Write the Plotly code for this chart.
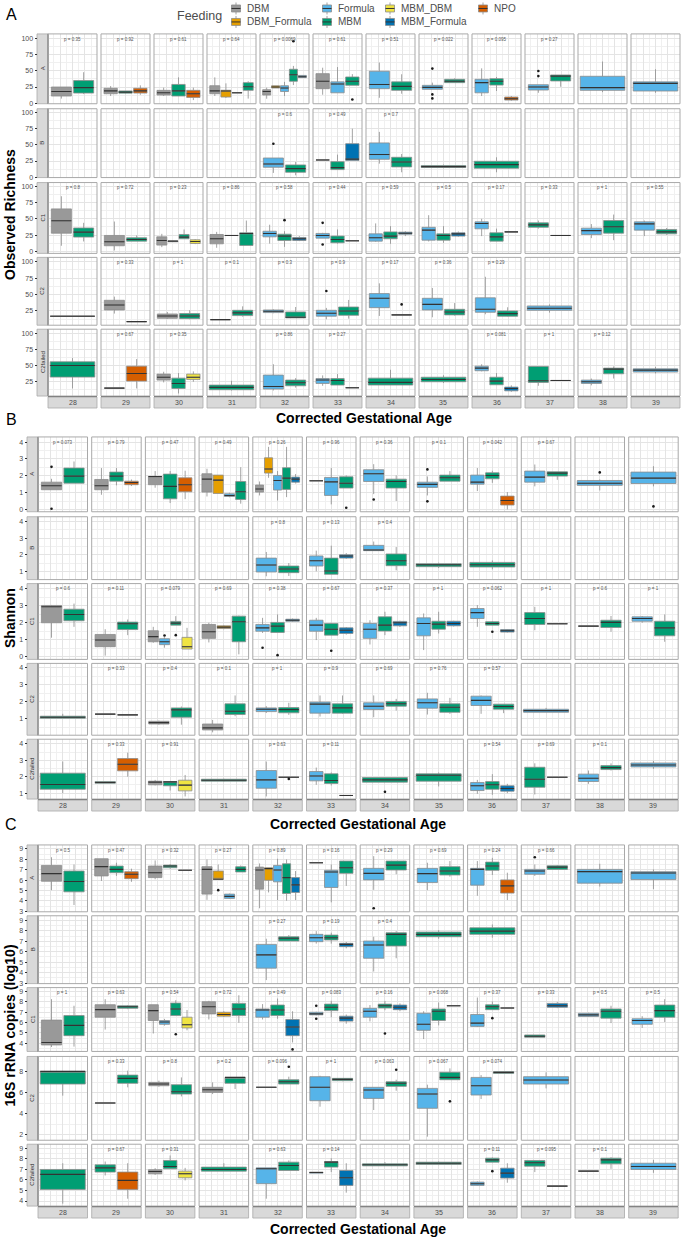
import plotly.graph_objects as go

W, H = 683, 1240
FONT = "Liberation Sans, Arial, sans-serif"

GROUPS = ["DBM", "DBM_Formula", "Formula", "MBM", "MBM_DBM", "MBM_Formula", "NPO"]
CODES = ["D", "DF", "F", "M", "MD", "MF", "N"]
COLORS = ["#999999", "#E69F00", "#56B4E9", "#009E73", "#F0E442", "#0072B2", "#D55E00"]
AGES = list(range(28, 40))
ROW_NAMES = ["A", "B", "C1", "C2", "C2failed"]

# (age, group, lower whisker, q1, median, q3, upper whisker, outliers)
RICH_A = [
    (28, 'D', 7, 11, 18, 25, 25, []), (28, 'M', 14, 15.6, 24, 35, 48, []),
    (29, 'D', 11, 14.6, 19, 23, 26.5, []), (29, 'M', 15, 15.5, 17, 19, 19, []), (29, 'N', 13, 15.6, 19, 23, 27.6, []),
    (30, 'D', 11, 12.5, 16, 19.8, 24, []), (30, 'M', 11, 11, 19, 29, 40, []), (30, 'N', 4.7, 8.9, 14.6, 19.8, 24, []),
    (31, 'D', 11, 14.6, 19, 27, 40, []), (31, 'DF', 8, 9.4, 18.7, 20, 30.7, []), (31, 'F', 16, 16, 16, 16, 16, []),
    (31, 'M', 7, 19.8, 25.5, 31.8, 34, []),
    (32, 'D', 6.8, 12.5, 18, 20.8, 24, []), (32, 'DF', 23.4, 23.4, 25, 27, 27, []), (32, 'F', 11, 18, 23.4, 27, 33, []),
    (32, 'M', 28, 33.9, 44, 52.6, 57.8, [96]), (32, 'MF', 39.6, 39.6, 41, 43, 43, []),
    (33, 'D', 13, 22.4, 34, 45.8, 55, []), (33, 'F', 16, 16, 29.7, 33, 56, []), (33, 'M', 27.6, 27.6, 34, 40.6, 45, [5.7]),
    (34, 'F', 8.3, 22.4, 29, 49.5, 63, []), (34, 'M', 14.6, 19.8, 26, 33, 44.8, []),
    (35, 'F', 21.4, 21.4, 24.5, 27.6, 31.8, [53.6, 13.5, 7.3]), (35, 'M', 31.8, 31.8, 34, 37, 38.5, []),
    (36, 'F', 11, 16, 31.8, 37, 54, []), (36, 'M', 18.8, 28, 34, 38, 40.6, []), (36, 'N', 3.6, 4.7, 6.8, 9.4, 11, []),
    (37, 'F', 16, 20.3, 25, 28.6, 28.6, [50, 42]), (37, 'M', 25.5, 34.4, 42, 43.7, 43.7, []),
    (38, 'F', 17, 19.8, 24, 41.7, 64.6, []),
    (39, 'F', 16, 18.8, 30.7, 33, 52.6, []),
]
RICH_B = [
    (32, 'F', 6.7, 15.4, 20.5, 29.7, 29.7, [51.8]), (32, 'M', 3, 7.7, 13.3, 19, 23.6, []),
    (33, 'F', 26.7, 26.7, 26.7, 26.7, 26.7, []), (33, 'M', 11.8, 11.8, 14.9, 24, 34.9, []),
    (33, 'MF', 26, 26, 28, 51.8, 74.9, []),
    (34, 'F', 21, 27.7, 35, 53, 70, []), (34, 'M', 7.7, 15.9, 23.6, 30.8, 35.9, []),
    (35, 'M', 14, 15, 16.4, 18, 19.5, []),
    (36, 'M', 7.7, 13.8, 19.5, 24.6, 30.8, []),
]
RICH_C1 = [
    (28, 'D', 8.7, 28, 47, 65.3, 84.7, []), (28, 'M', 15.3, 22, 29.6, 36, 43.9, []),
    (29, 'D', 1.5, 8.7, 14.8, 24.5, 45.9, []), (29, 'M', 15.8, 15.8, 18.4, 21, 24.5, []),
    (30, 'D', 6.6, 9.7, 16.8, 22.4, 27, []), (30, 'F', 14.8, 14.8, 15.8, 15.8, 16.3, []),
    (30, 'M', 19.4, 19.4, 22, 26, 33.7, []), (30, 'MD', 11.2, 12.2, 15.3, 17.9, 18.9, []),
    (31, 'D', 5.6, 11.7, 19.4, 26, 30, []), (31, 'DF', 24.5, 24.5, 24.5, 24.5, 24.5, []),
    (31, 'M', 9.2, 9.2, 27.6, 28.6, 47.4, []),
    (32, 'F', 12, 22.4, 27.6, 31, 41, []), (32, 'M', 7, 16.8, 23.5, 26.5, 31, [48]),
    (32, 'MF', 15.8, 16.8, 19.4, 21.4, 23.5, []),
    (33, 'F', 20.4, 20.4, 24.5, 27.6, 28.6, [43.9, 10.7]), (33, 'M', 12, 13.3, 18.4, 23.5, 33.7, []),
    (33, 'MF', 16.3, 16.3, 16.3, 16.3, 16.3, []),
    (34, 'F', 14.8, 15.8, 21, 27, 43, []), (34, 'M', 11.7, 19.4, 23.5, 30, 38.8, []),
    (34, 'MF', 23.5, 26.5, 28, 29.6, 31, []),
    (35, 'F', 15.3, 17.3, 32.7, 37, 55.6, []), (35, 'M', 13.3, 17.3, 24.5, 27, 38.8, []),
    (35, 'MF', 22.4, 23.5, 27, 28.6, 30.6, []),
    (36, 'F', 23.5, 34.7, 42.9, 45.4, 50, []), (36, 'M', 15.8, 15.8, 22.4, 28.6, 35, []),
    (36, 'MF', 30, 30, 30, 30, 30, []),
    (37, 'M', 35, 37, 40.8, 43.9, 47.4, []), (37, 'MF', 24.5, 24.5, 24.5, 24.5, 24.5, []),
    (38, 'F', 20.4, 26, 32, 35.7, 42, []), (38, 'M', 17.3, 28, 37.8, 47.4, 56.6, []),
    (39, 'F', 23.5, 32.7, 42.3, 45.4, 47.4, []), (39, 'M', 25.5, 27, 30, 33.7, 36, []),
]
RICH_C2 = [
    (28, 'M', 17, 17, 17, 17, 17, []),
    (29, 'D', 21, 26.5, 34, 41.2, 46.8, []), (29, 'M', 8.8, 8.8, 8.8, 8.8, 8.8, []),
    (30, 'D', 12.8, 13.8, 17.4, 20.4, 23.5, []), (30, 'M', 12.3, 13.3, 17.4, 21, 26, []),
    (31, 'D', 11.8, 11.8, 11.8, 11.8, 11.8, []), (31, 'M', 16.4, 17.9, 22, 26, 32, []),
    (32, 'F', 21.5, 22.5, 24.5, 26.5, 27.5, []), (32, 'M', 14.4, 14.4, 15.4, 23.5, 31, []),
    (33, 'F', 12.3, 17, 21.5, 26, 29.6, [55.4]), (33, 'M', 13.3, 18.4, 25, 31, 41.7, []),
    (34, 'F', 17.4, 30, 44.3, 51.4, 67, []), (34, 'M', 19, 19, 19, 19, 19, [35]),
    (35, 'F', 15.4, 26.5, 35, 44.3, 60, []), (35, 'M', 17.9, 19, 23.5, 27.5, 37, []),
    (36, 'F', 20, 23, 27.5, 45, 77, []), (36, 'M', 16.4, 16.9, 21, 25, 30.6, []),
    (37, 'F', 22.5, 26, 29, 32.6, 35, []),
]
RICH_C2F = [
    (28, 'M', 14.7, 32.2, 50, 55.8, 61.5, []),
    (29, 'M', 15.2, 15.2, 15.2, 15.2, 15.2, []), (29, 'N', 14.7, 26, 37.8, 49, 60, []),
    (30, 'D', 24, 27.6, 32, 36.8, 40.4, []), (30, 'M', 7, 14.7, 22.4, 30.6, 38.4, []),
    (30, 'MD', 25, 28.6, 32, 36.8, 41, []),
    (31, 'M', 11.6, 12.7, 16.3, 19.9, 26.5, []),
    (32, 'F', 11.6, 13.7, 17.8, 35.3, 52, []), (32, 'M', 16, 18.8, 23.5, 27.6, 30.6, []),
    (33, 'F', 18.8, 22.4, 27.6, 30, 34.8, []), (33, 'M', 19.9, 19.9, 27, 30, 36.8, []),
    (33, 'MF', 15.8, 15.8, 15.8, 15.8, 15.8, []),
    (34, 'M', 19.9, 19.9, 24, 30.6, 43.5, []),
    (35, 'M', 23, 25, 28.6, 32, 35, []),
    (36, 'F', 41, 42, 46, 49, 52, []), (36, 'M', 20.4, 20.4, 26, 32, 38.4, []),
    (36, 'MF', 9.5, 11, 14.7, 16.8, 19.5, []),
    (37, 'M', 18.8, 24, 26.5, 48.6, 48.6, []), (37, 'MD', 27, 27, 27, 27, 27, []),
    (38, 'F', 19.5, 22.4, 25, 27.6, 30, []), (38, 'M', 30, 37.3, 44.5, 46, 48.6, []),
    (39, 'F', 37.8, 40, 43, 45, 48, []),
]

SHAN_A = [
    (28, 'D', 1.17, 1.17, 1.41, 1.62, 1.82, [2.53, 0.04]), (28, 'M', 1.56, 1.56, 1.98, 2.46, 2.85, []),
    (29, 'D', 0.87, 1.17, 1.41, 1.78, 2.46, []), (29, 'M', 1.43, 1.68, 1.98, 2.22, 2.46, []),
    (29, 'N', 1.39, 1.47, 1.6, 1.68, 1.78, []),
    (30, 'D', 1.29, 1.47, 1.96, 1.96, 2.28, []), (30, 'M', 0.38, 0.63, 1.37, 2.1, 2.28, []),
    (30, 'N', 0.61, 1.05, 1.47, 1.88, 2.3, []),
    (31, 'D', 0.77, 1.03, 1.8, 2.12, 2.42, []), (31, 'DF', 0.95, 0.95, 1.74, 2.04, 2.04, []),
    (31, 'F', 0.72, 0.77, 0.83, 0.93, 0.99, []), (31, 'M', 0.34, 0.59, 1.05, 1.66, 2.51, []),
    (32, 'D', 0.83, 1.03, 1.21, 1.45, 1.66, []), (32, 'DF', 1.88, 2.16, 2.4, 3.07, 3.72, []),
    (32, 'F', 0.53, 1.15, 1.72, 2.02, 2.28, []), (32, 'M', 0.73, 1.19, 1.86, 2.48, 3.72, []),
    (32, 'MF', 1.54, 1.62, 1.8, 1.92, 2.1, []),
    (33, 'D', 1.7, 1.7, 1.7, 1.7, 1.7, []), (33, 'F', 0.3, 0.83, 1.64, 1.9, 2.46, []),
    (33, 'M', 1.27, 1.27, 1.56, 1.94, 2.02, [0.1]),
    (34, 'F', 0.91, 1.66, 2.12, 2.36, 2.69, [0.59]), (34, 'M', 0.5, 1.27, 1.66, 1.8, 2.02, []),
    (35, 'F', 0.83, 1.31, 1.49, 1.62, 1.96, [2.38, 0.48]), (35, 'M', 1.68, 1.68, 1.88, 2.04, 2.28, []),
    (36, 'F', 1.09, 1.5, 1.62, 2.04, 2.46, []), (36, 'M', 1.58, 1.82, 2.02, 2.18, 2.3, []),
    (36, 'N', 0.0, 0.26, 0.53, 0.79, 1.03, []),
    (37, 'F', 1.37, 1.62, 1.92, 2.28, 2.67, []), (37, 'M', 1.76, 1.98, 2.16, 2.24, 2.24, []),
    (38, 'F', 1.13, 1.43, 1.56, 1.72, 1.78, [2.2]),
    (39, 'F', 1.37, 1.54, 1.86, 2.22, 2.57, [0.18]),
]
SHAN_B = [
    (32, 'F', 0.7, 0.96, 1.38, 1.8, 2.17, []), (32, 'M', 0.72, 0.92, 1.14, 1.32, 1.5, []),
    (33, 'F', 1.0, 1.32, 1.64, 1.93, 2.25, []), (33, 'M', 0.82, 0.82, 1.02, 1.8, 2.55, []),
    (33, 'MF', 1.75, 1.8, 1.93, 2.0, 2.1, []),
    (34, 'F', 2.25, 2.25, 2.29, 2.57, 2.8, []), (34, 'M', 1.06, 1.34, 1.64, 2.05, 2.47, []),
    (35, 'M', 1.2, 1.28, 1.4, 1.46, 1.52, []),
    (36, 'M', 1.12, 1.26, 1.4, 1.54, 1.66, []),
]
SHAN_C1 = [
    (28, 'D', 1.12, 2.0, 2.94, 3.02, 3.05, []), (28, 'M', 1.76, 2.12, 2.49, 2.8, 3.13, []),
    (29, 'D', 0.06, 0.59, 0.98, 1.31, 1.62, []), (29, 'M', 1.27, 1.6, 1.94, 2.04, 2.19, []),
    (30, 'D', 0.82, 0.88, 1.18, 1.53, 1.76, []), (30, 'F', 0.53, 0.71, 0.88, 1.06, 1.15, [1.25]),
    (30, 'M', 1.86, 1.86, 1.98, 2.08, 2.39, [1.27]), (30, 'MD', 0.45, 0.45, 0.59, 1.14, 1.7, []),
    (31, 'D', 0.84, 1.08, 1.47, 1.9, 2.0, []), (31, 'DF', 1.62, 1.66, 1.74, 1.82, 1.86, []),
    (31, 'M', 0.14, 0.88, 2.06, 2.39, 2.42, []),
    (32, 'F', 1.4, 1.5, 1.7, 1.9, 2.29, [0.53]), (32, 'M', 1.43, 1.43, 1.8, 2.02, 2.49, [0.09]),
    (32, 'MF', 2.05, 2.09, 2.15, 2.21, 2.25, []),
    (33, 'F', 0.98, 1.5, 1.86, 2.15, 2.29, []), (33, 'M', 1.27, 1.27, 1.62, 1.96, 2.0, [0.35]),
    (33, 'MF', 1.3, 1.37, 1.56, 1.7, 1.75, []),
    (34, 'F', 0.72, 1.08, 1.62, 1.96, 2.15, []), (34, 'M', 1.27, 1.51, 1.86, 2.35, 2.65, []),
    (34, 'MF', 1.75, 1.82, 2.0, 2.08, 2.12, []),
    (35, 'F', 0.39, 1.23, 1.96, 2.29, 2.55, []), (35, 'M', 1.37, 1.62, 1.92, 2.09, 2.65, []),
    (35, 'MF', 1.78, 1.82, 1.96, 2.09, 2.12, []),
    (36, 'F', 1.76, 2.25, 2.6, 2.84, 3.04, []), (36, 'M', 1.86, 1.86, 1.96, 2.06, 2.1, [1.47]),
    (36, 'MF', 1.42, 1.45, 1.53, 1.6, 1.62, []),
    (37, 'M', 1.56, 1.9, 2.25, 2.6, 2.94, []), (37, 'MF', 1.94, 1.94, 1.94, 1.94, 1.94, []),
    (38, 'F', 1.8, 1.8, 1.8, 1.8, 1.8, []), (38, 'M', 1.47, 1.72, 2.02, 2.15, 2.4, []),
    (39, 'F', 2.0, 2.09, 2.25, 2.35, 2.4, []), (39, 'M', 0.88, 1.23, 1.7, 2.09, 2.49, []),
]
SHAN_C2 = [
    (28, 'M', 1.04, 1.04, 1.1, 1.16, 1.3, []),
    (29, 'D', 1.28, 1.28, 1.28, 1.28, 1.28, []), (29, 'M', 1.24, 1.24, 1.24, 1.24, 1.24, []),
    (30, 'D', 0.66, 0.7, 0.78, 0.86, 0.9, []), (30, 'M', 0.66, 1.1, 1.53, 1.65, 1.73, []),
    (31, 'D', 0.21, 0.35, 0.47, 0.7, 0.94, []), (31, 'M', 1.16, 1.26, 1.45, 1.89, 2.38, []),
    (32, 'F', 1.35, 1.43, 1.57, 1.65, 1.75, []), (32, 'M', 1.24, 1.36, 1.55, 1.67, 1.95, []),
    (33, 'F', 1.14, 1.34, 1.87, 1.99, 2.38, []), (33, 'M', 1.3, 1.34, 1.65, 1.89, 2.38, []),
    (34, 'F', 1.1, 1.55, 1.75, 1.95, 2.38, []), (34, 'M', 1.49, 1.75, 1.89, 2.03, 2.18, []),
    (35, 'F', 1.26, 1.63, 1.95, 2.18, 2.54, []), (35, 'M', 1.3, 1.39, 1.69, 1.89, 2.24, []),
    (36, 'F', 1.3, 1.79, 2.09, 2.34, 2.38, []), (36, 'M', 1.34, 1.57, 1.73, 1.87, 1.87, []),
    (37, 'F', 1.39, 1.39, 1.49, 1.57, 1.65, []),
]
SHAN_C2F = [
    (28, 'M', 1.0, 1.24, 1.53, 2.22, 2.93, []),
    (29, 'M', 1.6, 1.6, 1.65, 1.71, 1.71, []), (29, 'N', 2.01, 2.36, 2.76, 3.11, 3.47, []),
    (30, 'D', 1.47, 1.51, 1.67, 1.73, 1.81, []), (30, 'M', 1.16, 1.45, 1.69, 1.71, 1.71, []),
    (30, 'MD', 0.8, 1.14, 1.49, 1.79, 2.11, []),
    (31, 'M', 1.7, 1.73, 1.79, 1.85, 1.88, []),
    (32, 'F', 0.8, 1.3, 1.81, 2.38, 2.93, []), (32, 'M', 1.97, 1.97, 1.97, 1.97, 1.97, [1.87]),
    (33, 'F', 1.51, 1.75, 2.05, 2.32, 2.56, []), (33, 'M', 1.47, 1.59, 1.77, 2.18, 2.26, []),
    (33, 'MF', 0.86, 0.86, 0.86, 0.86, 0.86, []),
    (34, 'M', 1.67, 1.67, 1.81, 1.95, 1.95, [1.08]),
    (35, 'M', 1.41, 1.73, 2.09, 2.18, 2.26, []),
    (36, 'F', 0.96, 1.16, 1.45, 1.65, 1.81, []), (36, 'M', 0.9, 1.24, 1.51, 1.71, 2.16, []),
    (36, 'MF', 1.0, 1.12, 1.28, 1.45, 1.57, []),
    (37, 'M', 0.92, 1.36, 1.85, 2.58, 2.82, []), (37, 'MD', 1.97, 1.97, 1.97, 1.97, 1.97, []),
    (38, 'F', 1.57, 1.71, 1.91, 2.16, 2.38, []), (38, 'M', 2.38, 2.44, 2.56, 2.68, 2.82, []),
    (39, 'F', 2.48, 2.6, 2.72, 2.84, 2.97, []),
]

COP_A = [
    (28, 'D', 5.03, 5.89, 6.62, 7.41, 8.2, []), (28, 'M', 3.6, 4.87, 5.86, 6.87, 7.5, []),
    (29, 'D', 5.92, 6.4, 7.29, 8.05, 8.05, []), (29, 'M', 6.4, 6.71, 7.03, 7.35, 7.67, []),
    (29, 'N', 5.83, 6.14, 6.56, 6.81, 7.1, []),
    (30, 'D', 6.08, 6.24, 6.71, 7.35, 7.89, []), (30, 'M', 7.1, 7.19, 7.35, 7.44, 7.54, []),
    (30, 'N', 6.94, 6.94, 6.94, 6.94, 6.94, []),
    (31, 'D', 4.1, 4.65, 7.03, 7.29, 7.98, []), (31, 'DF', 6.08, 6.08, 6.08, 6.87, 7.5, [5.03]),
    (31, 'F', 4.2, 4.24, 4.43, 4.65, 4.7, []), (31, 'M', 6.78, 6.78, 7.03, 7.29, 7.41, []),
    (32, 'D', 3.29, 5.13, 6.97, 7.25, 7.6, []), (32, 'DF', 4.81, 5.98, 7.1, 7.19, 7.19, []),
    (32, 'F', 4.08, 5.83, 6.97, 7.41, 8.05, []), (32, 'M', 4.02, 4.71, 6.24, 7.57, 7.98, []),
    (32, 'MF', 4.08, 4.81, 5.54, 6.24, 6.87, []),
    (33, 'D', 7.67, 7.67, 7.67, 7.67, 7.67, []), (33, 'F', 3.86, 5.29, 6.78, 6.94, 7.5, []),
    (33, 'M', 5.44, 6.65, 7.19, 7.83, 7.83, []),
    (34, 'F', 5.06, 6.02, 6.65, 7.13, 8.3, [3.29]), (34, 'M', 6.56, 6.97, 7.44, 7.83, 7.83, []),
    (35, 'F', 5.03, 5.76, 6.62, 7.13, 7.67, []), (35, 'M', 6.33, 6.49, 6.87, 7.29, 7.83, []),
    (36, 'F', 4.49, 5.51, 7.03, 7.13, 7.83, []), (36, 'M', 6.49, 6.94, 7.35, 7.73, 8.14, []),
    (36, 'N', 4.08, 4.75, 5.44, 6.02, 6.71, []),
    (37, 'F', 6.4, 6.56, 6.87, 7.03, 7.5, [8.2]), (37, 'M', 7.03, 7.03, 7.25, 7.38, 7.44, []),
    (38, 'F', 5.38, 5.7, 6.81, 7.03, 7.57, []),
    (39, 'F', 5.13, 6.05, 6.68, 6.81, 7.03, []),
]
COP_B = [
    (32, 'F', 3.29, 4.43, 5.7, 6.71, 7.25, []), (32, 'M', 7.03, 7.03, 7.29, 7.44, 7.6, []),
    (33, 'F', 6.78, 6.97, 7.35, 7.67, 7.98, []), (33, 'M', 6.78, 7.13, 7.35, 7.6, 7.83, []),
    (33, 'MF', 6.33, 6.49, 6.71, 6.81, 6.94, []),
    (34, 'F', 4.11, 5.38, 6.65, 7.03, 7.44, []), (34, 'M', 5.38, 6.56, 7.67, 7.83, 7.98, []),
    (35, 'M', 7.25, 7.44, 7.67, 7.89, 8.08, []),
    (36, 'M', 7.35, 7.67, 7.98, 8.3, 8.62, []),
]
COP_C1 = [
    (28, 'D', 3.63, 3.83, 4.07, 6.24, 8.27, []), (28, 'M', 3.67, 4.73, 5.73, 6.68, 7.63, []),
    (29, 'D', 5.32, 6.52, 7.25, 7.73, 8.27, []), (29, 'M', 7.3, 7.38, 7.54, 7.63, 7.7, []),
    (30, 'D', 4.94, 6.2, 7.16, 7.73, 7.73, []), (30, 'F', 5.7, 5.83, 6.05, 6.2, 6.36, []),
    (30, 'M', 6.68, 6.68, 7.32, 7.89, 8.17, [4.87]), (30, 'MD', 5.25, 5.48, 5.79, 6.52, 7.22, []),
    (31, 'D', 6.3, 6.84, 7.54, 8.02, 8.11, []), (31, 'DF', 6.55, 6.62, 6.78, 7.0, 7.1, []),
    (31, 'M', 5.98, 6.68, 7.32, 7.86, 8.65, []),
    (32, 'F', 6.3, 6.52, 7.22, 7.32, 7.79, []), (32, 'M', 6.37, 6.68, 7.22, 7.7, 8.33, []),
    (32, 'MF', 4.07, 4.73, 5.57, 6.3, 7.1, [3.4]),
    (33, 'F', 6.7, 6.75, 6.84, 7.0, 7.05, [7.63, 6.37]), (33, 'M', 6.52, 7.16, 7.48, 7.79, 8.11, []),
    (33, 'MF', 5.89, 6.14, 6.43, 6.62, 6.78, []),
    (34, 'F', 6.11, 6.52, 7.1, 7.38, 7.7, []), (34, 'M', 7.2, 7.41, 7.63, 7.79, 8.1, [4.94]),
    (34, 'MF', 7.1, 7.25, 7.48, 7.7, 7.86, []),
    (35, 'F', 4.4, 5.25, 5.83, 6.9, 7.1, []), (35, 'M', 5.73, 6.2, 7.1, 7.32, 7.95, []),
    (35, 'MF', 7.63, 7.63, 7.63, 7.63, 7.63, []),
    (36, 'F', 5.57, 5.63, 5.95, 6.78, 8.43, []), (36, 'M', 7.25, 7.25, 7.54, 7.73, 8.05, [6.43]),
    (36, 'MF', 7.41, 7.41, 7.41, 7.41, 7.41, []),
    (37, 'M', 4.57, 4.57, 4.67, 4.8, 4.8, []), (37, 'MF', 7.4, 7.48, 7.63, 7.86, 8.0, []),
    (38, 'F', 6.55, 6.59, 6.75, 6.9, 6.95, []), (38, 'M', 5.95, 6.43, 7.1, 7.32, 7.63, []),
    (39, 'F', 5.48, 5.83, 6.2, 6.37, 6.62, []), (39, 'M', 6.05, 6.52, 7.16, 7.7, 8.27, []),
]
COP_C2 = [
    (28, 'M', 5.73, 6.83, 8.03, 8.03, 8.03, []),
    (29, 'D', 5.03, 5.03, 5.03, 5.03, 5.03, []), (29, 'M', 6.52, 6.9, 7.37, 7.68, 8.1, []),
    (30, 'D', 6.58, 6.67, 6.83, 6.99, 7.15, []), (30, 'M', 5.66, 5.88, 6.1, 6.77, 7.46, []),
    (31, 'D', 5.88, 6.04, 6.29, 6.52, 6.99, []), (31, 'M', 6.36, 6.9, 7.46, 7.46, 7.46, []),
    (32, 'F', 6.52, 6.52, 6.52, 6.52, 6.52, []), (32, 'M', 6.83, 6.83, 7.05, 7.24, 7.53, [8.47]),
    (33, 'F', 4.68, 5.25, 6.52, 7.53, 7.62, []), (33, 'M', 7.1, 7.15, 7.27, 7.37, 7.37, []),
    (34, 'F', 4.37, 5.47, 6.26, 6.52, 6.52, []), (34, 'M', 6.2, 6.61, 6.9, 7.05, 7.24, [8.19]),
    (35, 'F', 1.84, 4.53, 5.88, 6.42, 6.77, []), (35, 'M', 7.24, 7.24, 7.46, 7.94, 8.32, [5.19]),
    (36, 'F', 5.41, 5.79, 6.67, 7.46, 7.68, []), (36, 'M', 7.84, 7.84, 7.94, 8.0, 8.0, []),
    (37, 'F', 6.42, 6.83, 7.21, 7.53, 7.94, []),
]
COP_C2F = [
    (28, 'M', 3.75, 5.1, 6.52, 6.99, 7.58, []),
    (29, 'M', 6.42, 6.74, 7.14, 7.43, 7.74, []), (29, 'N', 4.22, 5.1, 5.95, 6.74, 7.58, []),
    (30, 'D', 6.48, 6.58, 6.8, 6.96, 7.11, []), (30, 'M', 7.05, 7.05, 7.27, 7.84, 8.31, []),
    (30, 'MD', 5.95, 6.2, 6.58, 6.83, 7.14, []),
    (31, 'M', 6.83, 6.83, 6.99, 7.21, 7.58, []),
    (32, 'F', 4.22, 5.64, 7.05, 7.14, 7.14, []), (32, 'M', 6.89, 6.89, 7.36, 7.68, 7.84, []),
    (33, 'F', 6.64, 6.64, 6.7, 6.74, 6.74, []), (33, 'M', 6.74, 7.21, 7.68, 7.74, 8.06, []),
    (33, 'MF', 4.79, 5.48, 6.2, 6.89, 7.58, []),
    (34, 'M', 7.33, 7.33, 7.43, 7.52, 7.68, []),
    (35, 'M', 7.4, 7.46, 7.58, 7.68, 7.75, []),
    (36, 'F', 5.45, 5.48, 5.64, 5.79, 5.85, []), (36, 'M', 7.68, 7.68, 7.9, 8.06, 8.12, [6.83]),
    (36, 'MF', 5.73, 6.17, 6.64, 7.11, 7.58, []),
    (37, 'M', 6.74, 7.3, 7.62, 7.84, 7.84, []), (37, 'MD', 5.41, 5.41, 5.41, 5.41, 5.41, []),
    (38, 'F', 6.83, 6.83, 6.83, 6.83, 6.83, []), (38, 'M', 7.05, 7.52, 7.9, 8.06, 8.15, []),
    (39, 'F', 6.67, 6.99, 7.27, 7.58, 7.9, []),
]

# p-value labels per row (ages 28..39)
P_RICH = [
    ["0.35", "0.92", "0.61", "0.64", "0.0069", "0.61", "0.51", "0.022", "0.095", "0.27", "", ""],
    ["", "", "", "", "0.6", "0.49", "0.7", "", "", "", "", ""],
    ["0.8", "0.72", "0.23", "0.86", "0.58", "0.44", "0.59", "0.5", "0.17", "0.33", "1", "0.55"],
    ["", "0.33", "1", "0.1", "0.3", "0.9", "0.17", "0.36", "0.29", "", "", ""],
    ["", "0.67", "0.35", "", "0.86", "0.27", "", "", "0.081", "1", "0.12", ""],
]
P_SHAN = [
    ["0.073", "0.79", "0.47", "0.49", "0.26", "0.96", "0.36", "0.1", "0.042", "0.67", "", ""],
    ["", "", "", "", "0.8", "0.13", "0.4", "", "", "", "", ""],
    ["0.6", "0.11", "0.079", "0.69", "0.38", "0.67", "0.37", "1", "0.062", "1", "0.6", "1"],
    ["", "0.33", "0.4", "0.1", "1", "0.9", "0.69", "0.76", "0.57", "", "", ""],
    ["", "0.33", "0.91", "", "0.63", "0.11", "", "", "0.54", "0.69", "0.1", ""],
]
P_COP = [
    ["0.5", "0.47", "0.32", "0.27", "0.89", "0.16", "0.29", "0.69", "0.24", "0.66", "", ""],
    ["", "", "", "", "0.27", "0.19", "0.4", "", "", "", "", ""],
    ["1", "0.63", "0.54", "0.72", "0.49", "0.083", "0.16", "0.068", "0.37", "0.33", "0.5", "0.5"],
    ["", "0.33", "0.8", "0.2", "0.096", "1", "0.063", "0.067", "0.074", "", "", ""],
    ["", "0.67", "0.31", "", "0.63", "0.14", "", "", "0.11", "0.095", "0.1", ""],
]

# ---------------- layout geometry (pixels) ----------------
XGEOM = [dict(left=48, width=49, step=53), dict(left=38, width=49.5, step=53.7)]
PANELS = [
    dict(label="A", label_y=15, xg=0, strip=37,
         rows=[(34, 104), (109, 178), (183, 254), (258, 326), (330, 397)], bstrip=(398, 409), xt=419,
         title="Observed Richness",
         ranges=[(-1, 107.5), (-0.5, 105.7), (-3, 105.7), (3.3, 106.5), (3, 106)],
         dticks=[25, 25, 25, 25, 25], data=[RICH_A, RICH_B, RICH_C1, RICH_C2, RICH_C2F], p=P_RICH),
    dict(label="B", label_y=421, xg=1, strip=27,
         rows=[(438, 513), (518, 581), (585, 661), (665, 737), (741, 801)], bstrip=(802, 813), xt=826,
         title="Shannon",
         ranges=[(-0.14, 4.31), (0.5, 4.3), (-0.16, 4.31), (0.04, 4.27), (0.64, 4.29)],
         dticks=[1, 1, 1, 1, 1], data=[SHAN_A, SHAN_B, SHAN_C1, SHAN_C2, SHAN_C2F], p=P_SHAN),
    dict(label="C", label_y=827, xg=1, strip=27,
         rows=[(847, 914), (918, 986), (990, 1054), (1059, 1143), (1147, 1209)], bstrip=(1210, 1221), xt=1232,
         title="16S rRNA copies (log10)",
         ranges=[(2.95, 9.38), (2.95, 9.45), (3.2, 9.39), (1.5, 9.45), (3.52, 9.38)],
         dticks=[1, 1, 1, 2, 1], data=[COP_A, COP_B, COP_C1, COP_C2, COP_C2F], p=P_COP),
]

GRID = "#E4E4E4"
GRID_MINOR = "#F0F0F0"
BORDER = "#A9A9A9"
STRIP_FILL = "#D9D9D9"
BOX_LINE = "#8C8C8C"
MED_COLOR = "#333333"
TXT = "#4D4D4D"


def axn(prefix, i):
    return prefix if i == 1 else f"{prefix}{i}"


def note(x, y, text, size, color=TXT, xanchor="center", yanchor="middle", **kw):
    d = dict(xref="paper", yref="paper", x=x, y=y, text=text, showarrow=False,
             xanchor=xanchor, yanchor=yanchor, font=dict(size=size, color=color))
    d.update(kw)
    return d


layout = dict(width=W, height=H, margin=dict(l=0, r=0, t=0, b=0),
              paper_bgcolor="white", plot_bgcolor="white", showlegend=False,
              font=dict(family=FONT, color=TXT), boxmode="overlay")
shapes, annotations, traces = [], [], []

# x axes: one per column per geometry group
for g, geo in enumerate(XGEOM):
    anchor_y = "y5" if g == 0 else "y10"
    for c, age in enumerate(AGES):
        i = g * 12 + c + 1
        l = geo["left"] + c * geo["step"]
        layout[axn("xaxis", i)] = dict(
            domain=[l / W, (l + geo["width"]) / W], range=[age - 0.495, age + 0.495],
            anchor=anchor_y, showticklabels=False, ticks="", showline=False, zeroline=False,
            showgrid=True, gridcolor=GRID, gridwidth=0.9, tick0=age, dtick=0.25,
            minor=dict(tick0=age, dtick=0.125, showgrid=True, gridcolor=GRID_MINOR, gridwidth=0.5),
            fixedrange=True)

for p, pan in enumerate(PANELS):
    geo = XGEOM[pan["xg"]]
    fl = geo["left"]
    right = geo["left"] + 11 * geo["step"] + geo["width"]
    for r in range(5):
        j = p * 5 + r + 1
        top, bot = pan["rows"][r]
        lo, hi = pan["ranges"][r]
        dt = pan["dticks"][r]
        layout[axn("yaxis", j)] = dict(
            domain=[1 - bot / H, 1 - top / H], range=[lo, hi], anchor="free",
            position=pan["strip"] / W, side="left", ticks="outside", ticklen=2.5, tickwidth=0.7,
            tickcolor="#333333", tickfont=dict(size=7, color=TXT), tick0=0, dtick=dt,
            showgrid=True, gridcolor=GRID, gridwidth=0.9, zeroline=False, showline=False,
            minor=dict(tick0=0, dtick=dt / 2, showgrid=True, gridcolor=GRID_MINOR, gridwidth=0.5),
            fixedrange=True)
        yname = axn("y", j)
        # left strip
        shapes.append(dict(type="rect", xref="paper", yref="paper", x0=pan["strip"] / W, x1=fl / W,
                           y0=1 - bot / H, y1=1 - top / H, fillcolor=STRIP_FILL,
                           line=dict(color=BORDER, width=0.8), layer="below"))
        annotations.append(note((pan["strip"] + fl) / 2 / W, 1 - (top + bot) / 2 / H, ROW_NAMES[r], 6,
                                color="#333333", textangle=-90))
        # axis line at left of row
        shapes.append(dict(type="line", xref="paper", yref="paper", x0=fl / W, x1=fl / W,
                           y0=1 - bot / H, y1=1 - top / H, line=dict(color="#5A5A5A", width=1)))
        rows = pan["data"][r]
        for c, age in enumerate(AGES):
            i = pan["xg"] * 12 + c + 1
            xname = axn("x", i)
            recs = sorted([rec for rec in rows if rec[0] == age], key=lambda rec: CODES.index(rec[1]))
            n = len(recs)
            if n == 0:
                traces.append(go.Scatter(x=[age], y=[(lo + hi) / 2], mode="markers",
                                         marker=dict(opacity=0), xaxis=xname, yaxis=yname,
                                         hoverinfo="skip", showlegend=False))
            bw = 0.9 if n == 1 else 0.9 / max(n, 1) * 0.9
            mx, my, ox, oy = [], [], [], []
            for k, rec in enumerate(recs):
                _, code, wl, q1, md, q3, wh, outs = rec
                cx = age - 0.45 + 0.9 * (k + 0.5) / n
                gi = CODES.index(code)
                traces.append(go.Box(x=[cx], lowerfence=[wl], q1=[q1], median=[md], q3=[q3],
                                     upperfence=[wh], width=bw, fillcolor=COLORS[gi],
                                     line=dict(color=BOX_LINE, width=0.8), whiskerwidth=0,
                                     boxpoints=False, orientation="v", xaxis=xname, yaxis=yname,
                                     hoverinfo="skip", showlegend=False, name=GROUPS[gi]))
                mx += [cx - bw / 2, cx + bw / 2, None]
                my += [md, md, None]
                for o in outs:
                    ox.append(cx)
                    oy.append(o)
            if mx:
                traces.append(go.Scatter(x=mx, y=my, mode="lines", line=dict(color=MED_COLOR, width=1.1),
                                         xaxis=xname, yaxis=yname, hoverinfo="skip", showlegend=False))
            if ox:
                traces.append(go.Scatter(x=ox, y=oy, mode="markers",
                                         marker=dict(size=2.6, color="#1A1A1A"),
                                         xaxis=xname, yaxis=yname, hoverinfo="skip", showlegend=False))
            # facet border
            shapes.append(dict(type="rect", xref=f"{xname} domain", yref=f"{yname} domain",
                               x0=0, x1=1, y0=0, y1=1, line=dict(color=BORDER, width=1)))
            pv = pan["p"][r][c]
            if pv:
                annotations.append(dict(xref=xname, yref=f"{yname} domain", x=age, y=1,
                                        xanchor="center", yanchor="top",
                                        yshift=-0.8, text=f"p = {pv}", showarrow=False,
                                        font=dict(size=4.5, color="#555555")))
    # bottom strips
    b0, b1 = pan["bstrip"]
    for c, age in enumerate(AGES):
        l = geo["left"] + c * geo["step"]
        shapes.append(dict(type="rect", xref="paper", yref="paper", x0=l / W, x1=(l + geo["width"]) / W,
                           y0=1 - b1 / H, y1=1 - b0 / H, fillcolor=STRIP_FILL,
                           line=dict(color=BORDER, width=0.8), layer="below"))
        shapes.append(dict(type="line", xref="paper", yref="paper", x0=l / W, x1=(l + geo["width"]) / W,
                           y0=1 - (b0 - 0.5) / H, y1=1 - (b0 - 0.5) / H, line=dict(color="#6E6E6E", width=0.8)))
        annotations.append(note((l + geo["width"] / 2) / W, 1 - (b0 + b1) / 2 / H, str(age), 7))
    # titles and panel label
    annotations.append(note((fl + right) / 2 / W, 1 - pan["xt"] / H, "<b>Corrected Gestational Age</b>",
                            14, color="black"))
    annotations.append(note(10 / W, 1 - (pan["rows"][0][0] + pan["rows"][4][1]) / 2 / H,
                            f"<b>{pan['title']}</b>", 14, color="black", textangle=-90))
    annotations.append(note(11 / W, 1 - pan["label_y"] / H, pan["label"], 16, color="black"))

# manual legend (2 rows, column-major like ggplot)
LEG_COL_X = [236, 327, 390, 483]
LEG_ROW_Y = [8.5, 22]
annotations.append(note(224 / W, 1 - 16 / H, "Feeding", 12.5, xanchor="right"))
for gi, name in enumerate(GROUPS):
    cx = LEG_COL_X[gi // 2]
    cy = LEG_ROW_Y[gi % 2]
    shapes.append(dict(type="line", xref="paper", yref="paper", x0=cx / W, x1=cx / W,
                       y0=1 - (cy + 6) / H, y1=1 - (cy - 6) / H, line=dict(color=BOX_LINE, width=0.8)))
    shapes.append(dict(type="rect", xref="paper", yref="paper", x0=(cx - 4.5) / W, x1=(cx + 4.5) / W,
                       y0=1 - (cy + 3.5) / H, y1=1 - (cy - 3.5) / H, fillcolor=COLORS[gi],
                       line=dict(color=BOX_LINE, width=0.8)))
    shapes.append(dict(type="line", xref="paper", yref="paper", x0=(cx - 4.5) / W, x1=(cx + 4.5) / W,
                       y0=1 - cy / H, y1=1 - cy / H, line=dict(color=MED_COLOR, width=1)))
    annotations.append(note((cx + 9) / W, 1 - cy / H, name, 10, xanchor="left"))

layout["shapes"] = shapes
layout["annotations"] = annotations
fig = go.Figure(data=traces, layout=layout)
fig.write_html("out.html", config={"displayModeBar": False},
               post_script="document.body.style.margin='0';document.body.style.padding='0';")
